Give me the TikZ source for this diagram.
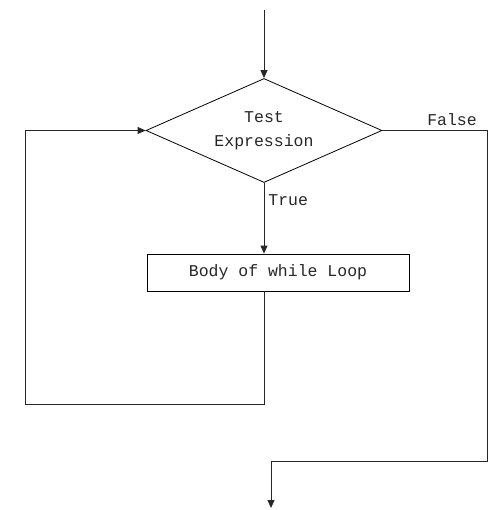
\documentclass[tikz,border=0pt]{standalone}
\usepackage{fontspec}
\setmonofont{Liberation Mono}
\usetikzlibrary{shapes.geometric,arrows.meta}
\begin{document}
\begin{tikzpicture}[x=1pt,y=-1pt, line width=0.8pt,
  >={Triangle[length=8pt,width=7pt]},
  txt/.style={font=\ttfamily\fontsize{16.5}{24}\selectfont, text=black!85},
  decision/.style={txt, diamond, aspect=2.27, draw, minimum width=236pt, minimum height=104pt, inner sep=0pt, align=center},
  process/.style={txt, rectangle, draw, minimum width=262pt, minimum height=37pt, inner sep=0pt},
  lbl/.style={txt, inner sep=0pt},
  flow/.style={draw=black!85, ->}]
\useasboundingbox (0,0) rectangle (490,510);
\coordinate (start) at (264,10);
\node[decision] (test) at (264,130.5) {Test\\Expression};
\node[process] (body) at (278,272.5) {Body of while Loop};
\coordinate (loopBR) at (264,404);
\coordinate (loopBL) at (25,404);
\coordinate (falseBR) at (487,461);
\coordinate (finish) at (271,508);
\draw[flow] (start) -- (test.north);
\draw[flow] (test.south) -- (test.south |- body.north);
\draw[flow] (test.south |- body.south) -- (loopBR) -- (loopBL) |- (test.west);
\draw[flow] (test.east) -| (falseBR) -| (finish);
\node[lbl, anchor=west] (truelbl) at (268,200) {True};
\node[lbl] (falselbl) at (452,120) {False};
\end{tikzpicture}
\end{document}
